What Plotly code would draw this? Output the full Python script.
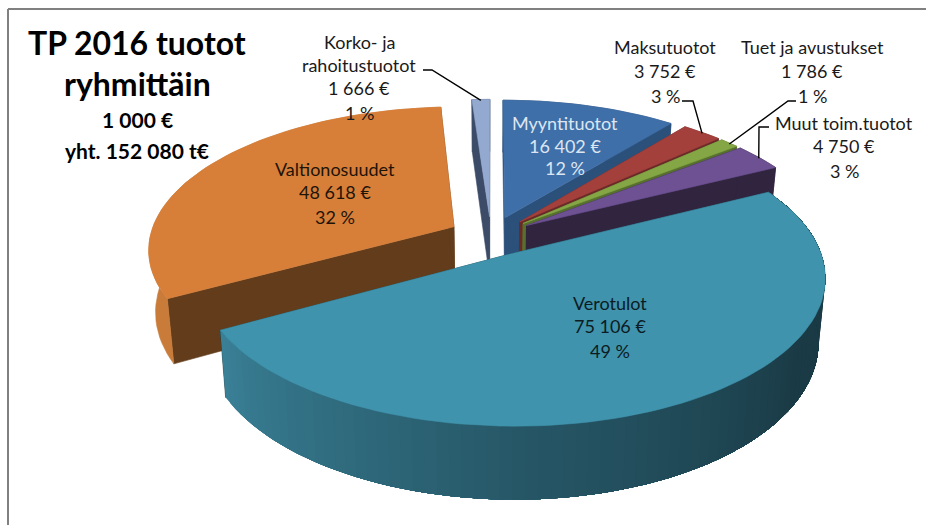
import numpy as np
import plotly.graph_objects as go

# ---- data ----
categories = ["Myyntituotot", "Maksutuotot", "Tuet ja avustukset", "Muut toim.tuotot",
              "Verotulot", "Valtionosuudet", "Korko- ja rahoitustuotot"]
values = [16402, 3752, 1786, 4750, 75106, 48618, 1666]
percent_labels = ["12 %", "3 %", "1 %", "3 %", "49 %", "32 %", "1 %"]
title_lines = ["TP 2016 tuotot", "ryhmittäin", "1 000 €", "yht. 152 080 t€"]

# ---- styles ----
top_colors = ["#3F6FA8", "#A4403C", "#84A645", "#6D5192", "#3F93AD", "#D77F39", "#93A9D0"]
radial_colors = ["#2B5079", "#6B2A28", "#57702E", "#30243F", "#1A3A45", "#633D1B", "#3C4C68"]
arc_colors = ["#2B5079", "#6B2A28", "#57702E", "#30243F", None, "#C97C3A", "#3C4C68"]
draw_order = [6, 5, 0, 1, 2, 3, 4]

# ---- projection of the tilted pie onto the axes ----
CX, CY, A, B, K, H, SHRINK, EXPLODE = 491.0, 236.0, 304.0, 140.5, 0.151, 61.0, 0.98, 0.14


def project(x, y, depth=False):
    x, y = np.asarray(x, float), np.asarray(y, float)
    w = 1 + K * y
    u = CX + A * x / w
    v = CY - B * y / w
    if depth:
        u = CX + (u - CX) * SHRINK
        v = v + H / w
    return u, v


def hex_rgb(c):
    return np.array([int(c[i:i + 2], 16) for i in (1, 3, 5)], float)


def vero_wall_color(theta):
    pts = [63, 120, 180, 241]
    cols = [hex_rgb(c) for c in ("#1A3A45", "#1A3A45", "#275868", "#3A8197")]
    rgb = [np.interp(theta, pts, [c[i] for c in cols]) for i in range(3)]
    return "rgb(%d,%d,%d)" % tuple(rgb)


def poly(fig, x, y, color, lw=0.6):
    fig.add_trace(go.Scatter(x=list(x), y=list(y), mode="lines", fill="toself", fillcolor=color,
                             line=dict(color=color, width=lw), hoverinfo="skip", showlegend=False))


fractions = np.array(values, float) / sum(values)
edges = np.concatenate([[0], np.cumsum(fractions)]) * 360.0
fig = go.Figure()
centers, mids = {}, {}

for i in draw_order:
    t0, t1 = edges[i], edges[i + 1]
    mid = np.radians((t0 + t1) / 2)
    ox, oy = EXPLODE * np.sin(mid), EXPLODE * np.cos(mid)
    centers[i] = (ox, oy)
    mids[i] = (ox + np.sin(mid), oy + np.cos(mid))
    n = max(6, int((t1 - t0) / 2))
    th = np.radians(np.linspace(t0, t1, n + 1))
    ax, ay = ox + np.sin(th), oy + np.cos(th)
    # radial walls
    for tt in (t0, t1):
        r = np.radians(tt)
        wx = np.array([ox, ox + np.sin(r)])
        wy = np.array([oy, oy + np.cos(r)])
        tu, tv = project(wx, wy)
        bu, bv = project(wx, wy, depth=True)
        poly(fig, [tu[0], tu[1], bu[1], bu[0], tu[0]], [tv[0], tv[1], bv[1], bv[0], tv[0]], radial_colors[i])
    # outer wall: one colour band per step, each overlapped by the next so no seams show
    tu, tv = project(ax, ay)
    bu, bv = project(ax, ay, depth=True)
    if arc_colors[i]:
        poly(fig, np.r_[tu, bu[::-1], tu[:1]], np.r_[tv, bv[::-1], tv[:1]], arc_colors[i])
    else:
        for j in range(n - 1, -1, -1):
            col = vero_wall_color(np.degrees((th[j] + th[j + 1]) / 2))
            poly(fig, np.r_[tu[:j + 2], bu[:j + 2][::-1], tu[:1]], np.r_[tv[:j + 2], bv[:j + 2][::-1], tv[:1]], col, 0)
    # top surface
    cu, cv = project([ox], [oy])
    poly(fig, np.r_[cu, tu, cu], np.r_[cv, tv, cv], top_colors[i])

# ---- frame ----
shapes = [
    dict(type="line", xref="x", yref="y", x0=8, y0=9, x1=926, y1=9, line=dict(color="#808080", width=2)),
    dict(type="line", xref="x", yref="y", x0=8, y0=9, x1=8, y1=525, line=dict(color="#808080", width=2)),
]
fig.update_layout(shapes=shapes)

# ---- leader lines: elbow from the label, end on the slice rim ----
leaders = {6: [(423, 70), (432, 70)], 1: [(682, 101), (693, 101)], 2: [(796, 101), (788, 101)],
           3: [(769, 127), (759, 127)]}
for i, pts in leaders.items():
    eu, ev = project([mids[i][0]], [mids[i][1]])
    fig.add_trace(go.Scatter(x=[p[0] for p in pts] + [float(eu[0])], y=[p[1] for p in pts] + [float(ev[0]) + 1],
                             mode="lines", line=dict(color="#000000", width=1.4),
                             hoverinfo="skip", showlegend=False))

# ---- texts ----
FONT = "Lato"


def txt(x, y, s, size=18, color="#1a1a1a", bold=False):
    fig.add_annotation(x=x, y=y, text=f"<b>{s}</b>" if bold else s, showarrow=False, xanchor="center",
                       yanchor="middle", font=dict(family=FONT, size=size, color=color))


def fmt(v):
    return f"{v:,}".replace(",", " ") + " €"


txt(137, 42, title_lines[0], 32, "#000000", True)
txt(137, 83, title_lines[1], 32, "#000000", True)
txt(137, 119, title_lines[2], 21, "#000000", True)
txt(137, 150, title_lines[3], 21, "#000000", True)

placements = {
    0: (565, [123, 146, 168], "#DCE6F2"),
    1: (665, [47, 71, 96], "#1a1a1a"),
    2: (812, [47, 71, 96], "#1a1a1a"),
    3: (844, [123, 146, 171], "#1a1a1a"),
    4: (610, [303, 326, 351], "#0c1c22"),
    5: (335, [169, 192, 217], "#1f1408"),
}
for i, (x, ys, col) in placements.items():
    txt(x, ys[0], categories[i], color=col)
    txt(x, ys[1], fmt(values[i]), color=col)
    txt(x, ys[2], percent_labels[i], color=col)
# the long name breaks over two lines
name_a, name_b = categories[6].rsplit(" ", 1)
txt(359, 41.5, name_a)
txt(359, 65, name_b)
txt(359, 88, fmt(values[6]))
txt(359, 113, percent_labels[6])

fig.update_layout(
    width=926, height=525, autosize=False, margin=dict(l=0, r=0, t=0, b=0),
    paper_bgcolor="#ffffff", plot_bgcolor="#ffffff", showlegend=False,
    xaxis=dict(range=[0, 926], visible=False, fixedrange=True),
    yaxis=dict(range=[525, 0], visible=False, fixedrange=True),
)
fig.write_html("out.html", config={"displayModeBar": False},
               post_script="document.body.style.margin='0';document.documentElement.style.overflow='hidden';")
